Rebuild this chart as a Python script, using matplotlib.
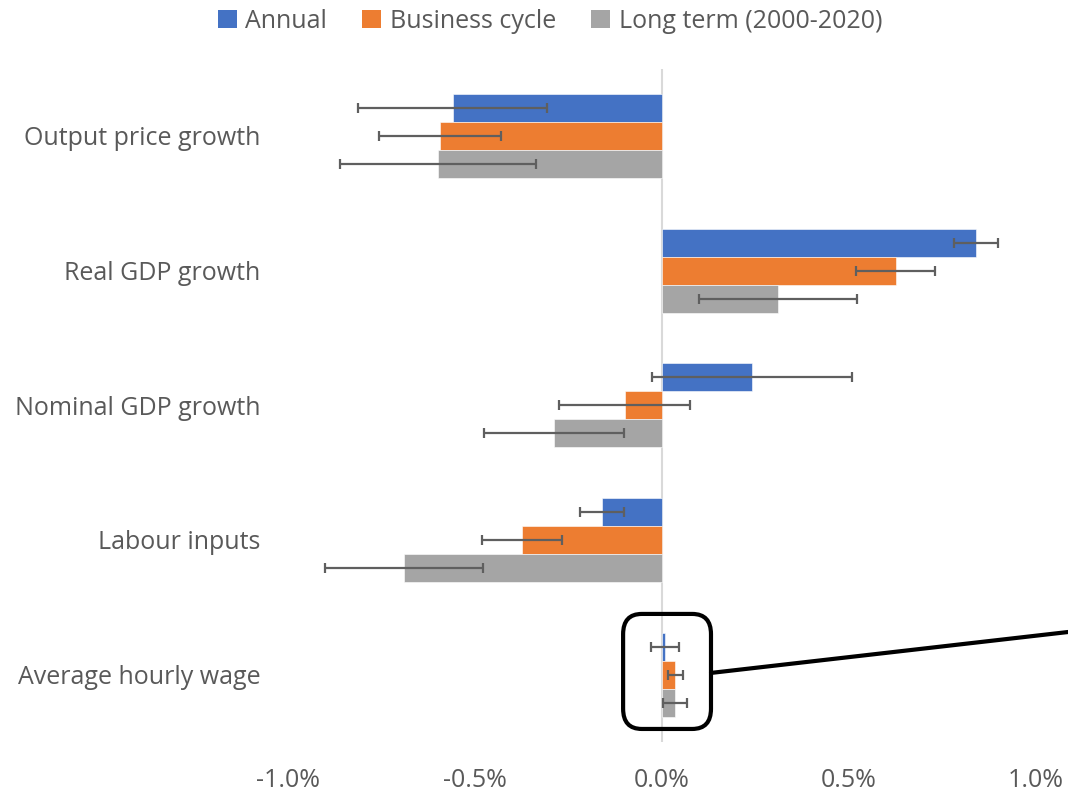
import numpy as np
import matplotlib
matplotlib.use("Agg")
import matplotlib.pyplot as plt
from matplotlib.patches import FancyBboxPatch, Patch
from matplotlib.ticker import FuncFormatter

plt.rcParams["font.family"] = ["Open Sans", "DejaVu Sans"]

categories = ["Output price growth", "Real GDP growth", "Nominal GDP growth",
              "Labour inputs", "Average hourly wage"]
series = ["Annual", "Business cycle", "Long term (2000-2020)"]
colors = ["#4472C4", "#ED7D31", "#A5A5A5"]

# values in %
annual = [-0.56, 0.84, 0.24, -0.16, 0.008]
business = [-0.594, 0.625, -0.10, -0.374, 0.035]
long_term = [-0.599, 0.31, -0.289, -0.69, 0.035]

annual_err = [0.253, 0.058, 0.267, 0.058, 0.037]
business_err = [0.163, 0.106, 0.175, 0.106, 0.02]
long_term_err = [0.262, 0.211, 0.187, 0.211, 0.032]

values = [annual, business, long_term]
errors = [annual_err, business_err, long_term_err]

TEXT = "#595959"
fig = plt.figure(figsize=(10.68, 7.92), dpi=100)
ax = fig.add_axes([0.2697, 0.0631, 0.7003, 0.8503])

y = np.arange(len(categories))
h = 0.208
ax.axvline(0, color="#d9d9d9", lw=1.5, zorder=1)
for j, (vals, errs) in enumerate(zip(values, errors)):
    ax.barh(y + (j - 1) * h, vals, height=h, color=colors[j],
            edgecolor="white", linewidth=0.4, zorder=2)
    ax.errorbar(vals, y + (j - 1) * h, xerr=errs, fmt="none",
                ecolor="#5f5f5f", elinewidth=1.6, capsize=3.6,
                capthick=1.6, zorder=3)

ax.set_ylim(-0.5, len(categories) - 0.5)
ax.invert_yaxis()
ax.set_xlim(-1.0, 1.0)
ax.set_xticks([-1.0, -0.5, 0.0, 0.5, 1.0])
ax.xaxis.set_major_formatter(FuncFormatter(lambda v, p: f"{v:.1f}%"))
ax.set_yticks(y)
ax.set_yticklabels(categories)
ax.tick_params(axis="both", length=0, labelsize=18, labelcolor=TEXT)
ax.tick_params(axis="x", pad=19)
ax.tick_params(axis="y", pad=20)
for s in ax.spines.values():
    s.set_visible(False)

# callout around the wage bars
box = FancyBboxPatch((-0.104, 3.549), 0.235, 0.854,
                     boxstyle="round,pad=0,rounding_size=0.05",
                     mutation_aspect=3.0, fill=False, edgecolor="black",
                     linewidth=3, clip_on=False, zorder=4)
ax.add_patch(box)
ax.annotate("", xy=(1.0, 0.202), xycoords="figure fraction",
            xytext=(0.131, 3.987), textcoords="data",
            arrowprops=dict(arrowstyle="-", color="black", lw=3,
                            shrinkA=0, shrinkB=0), annotation_clip=False)

handles = [Patch(facecolor=c, label=s) for c, s in zip(colors, series)]
fig.legend(handles=handles, loc="upper center", bbox_to_anchor=(0.515, 1.017),
           ncol=3, frameon=False, fontsize=18, labelcolor=TEXT,
           handlelength=0.75, handleheight=0.75, handletextpad=0.35,
           columnspacing=1.4)

fig.savefig("out.png", dpi=100)
